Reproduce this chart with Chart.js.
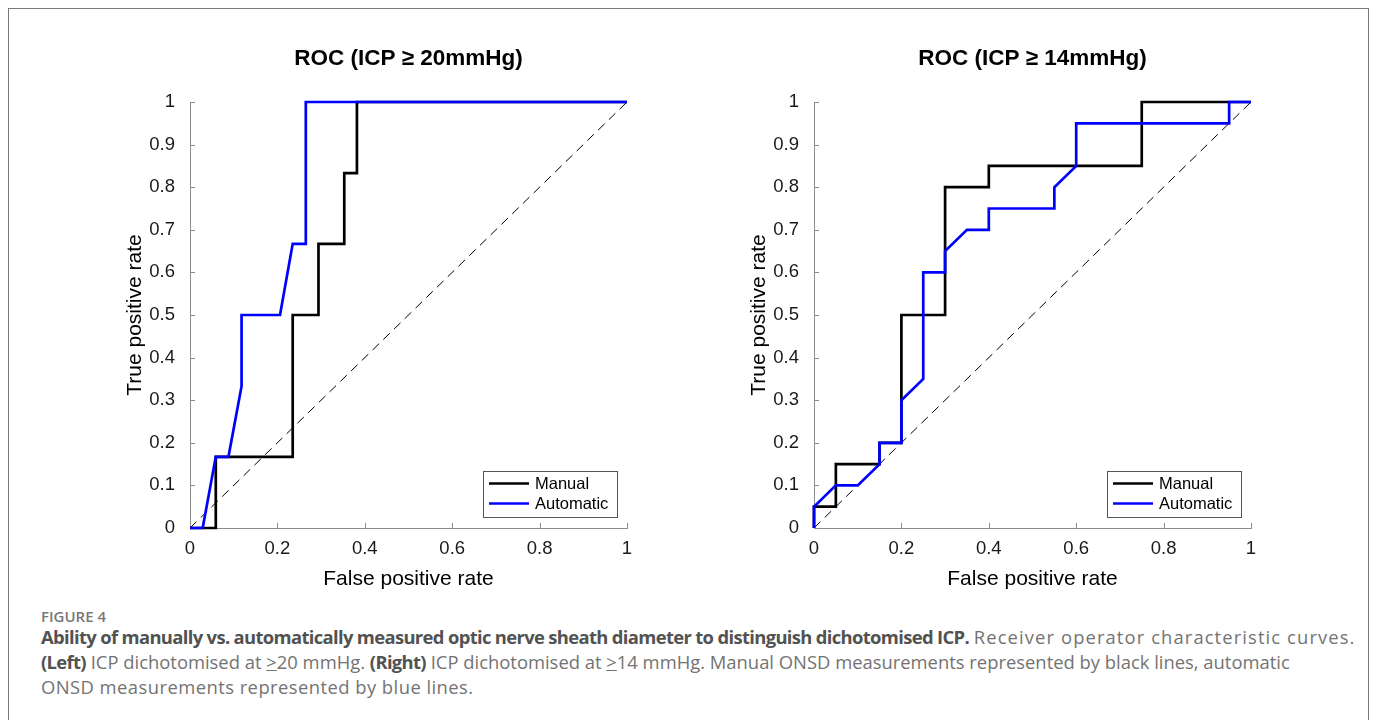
<!DOCTYPE html>
<html><head><meta charset="utf-8">
<script src="https://cdn.jsdelivr.net/npm/chart.js@4.4.1/dist/chart.umd.min.js"></script>
<style>
html,body{margin:0;padding:0;background:#fff;}
body{width:1375px;height:720px;position:relative;overflow:hidden;}
#frame{position:absolute;left:8px;top:7.5px;width:1361px;height:760px;border:1.5px solid #7a7a7a;box-sizing:border-box;}
canvas{position:absolute;top:0;}
#c1{left:100px;}
#c2{left:724px;}
.cap{position:absolute;left:41px;font-family:"Open Sans",sans-serif;color:#737373;white-space:nowrap;}
#figlab{top:605px;font-size:15px;line-height:22px;font-weight:600;color:#787878;}
#captext{top:624px;font-size:18.4px;line-height:25px;}
#captext b{color:#525252;font-weight:700;letter-spacing:-0.65px;}
.w1{letter-spacing:1.1px;}
.w3{letter-spacing:0.45px;}
</style></head><body>
<div id="frame"></div>
<canvas id="c1" width="560" height="600"></canvas>
<canvas id="c2" width="560" height="600"></canvas>
<div class="cap" id="figlab">FIGURE 4</div>
<div class="cap" id="captext"><b>Ability of manually vs. automatically measured optic nerve sheath diameter to distinguish dichotomised ICP.</b> <span class="w1">Receiver operator characteristic curves.</span><br><b>(Left)</b> ICP dichotomised at <u>&gt;</u>20 mmHg. <b>(Right)</b> ICP dichotomised at <u>&gt;</u>14 mmHg. Manual ONSD measurements represented by black lines, automatic<br><span class="w3">ONSD measurements represented by blue lines.</span></div>
<script>
// ---- data ----
const titles = ['ROC (ICP \u2265 20mmHg)', 'ROC (ICP \u2265 14mmHg)'];
const seriesNames = ['Manual', 'Automatic'];
const xTickValues = [0, 0.2, 0.4, 0.6, 0.8, 1];
const xTickLabels = ['0', '0.2', '0.4', '0.6', '0.8', '1'];
const yTickValues = [0, 0.1, 0.2, 0.3, 0.4, 0.5, 0.6, 0.7, 0.8, 0.9, 1];
const yTickLabels = ['0', '0.1', '0.2', '0.3', '0.4', '0.5', '0.6', '0.7', '0.8', '0.9', '1'];
const chanceX = [0, 1];
const chanceY = [0, 1];

const manualFpr20 = [0, 0.059, 0.059, 0.235, 0.235, 0.294, 0.294, 0.353, 0.353, 0.382, 0.382, 1];
const manualTpr20 = [0, 0, 0.167, 0.167, 0.5, 0.5, 0.667, 0.667, 0.833, 0.833, 1, 1];
const autoFpr20 = [0, 0.029, 0.059, 0.088, 0.118, 0.118, 0.206, 0.235, 0.265, 0.265, 1];
const autoTpr20 = [0, 0, 0.167, 0.167, 0.333, 0.5, 0.5, 0.667, 0.667, 1, 1];

const manualFpr14 = [0, 0, 0.05, 0.05, 0.15, 0.15, 0.2, 0.2, 0.3, 0.3, 0.4, 0.4, 0.75, 0.75, 1];
const manualTpr14 = [0, 0.05, 0.05, 0.15, 0.15, 0.2, 0.2, 0.5, 0.5, 0.8, 0.8, 0.85, 0.85, 1, 1];
const autoFpr14 = [0, 0, 0.05, 0.1, 0.15, 0.15, 0.2, 0.2, 0.25, 0.25, 0.3, 0.3, 0.35, 0.4, 0.4, 0.55, 0.55, 0.6, 0.6, 0.95, 0.95, 1];
const autoTpr14 = [0, 0.05, 0.1, 0.1, 0.15, 0.2, 0.2, 0.3, 0.35, 0.6, 0.6, 0.65, 0.7, 0.7, 0.75, 0.75, 0.8, 0.85, 0.95, 0.95, 1, 1];

// ---- helpers ----
const FONT = '"Liberation Sans", Arial, Helvetica, sans-serif';
const pts = (xs, ys) => xs.map((x, i) => ({x: x, y: ys[i]}));

const inwardTicks = {
  id: 'inwardTicks',
  beforeDatasetsDraw(chart) {
    const {ctx, chartArea: a, scales: {x, y}} = chart;
    ctx.save();
    ctx.strokeStyle = '#8c8c8c';
    ctx.lineWidth = 1;
    ctx.beginPath();
    xTickValues.forEach(v => {
      const px = Math.round(x.getPixelForValue(v)) + 0.5;
      ctx.moveTo(px, a.bottom); ctx.lineTo(px, a.bottom - 5);
    });
    yTickValues.forEach(v => {
      const py = Math.round(y.getPixelForValue(v)) + 0.5;
      ctx.moveTo(a.left, py); ctx.lineTo(a.left + 5, py);
    });
    ctx.stroke();
    ctx.restore();
  }
};

const boxLegend = {
  id: 'boxLegend',
  afterDatasetsDraw(chart) {
    const {ctx, chartArea: a} = chart;
    const w = 134, h = 46;
    const bx = a.right - 10 - w, by = a.bottom - 11 - h;
    ctx.save();
    ctx.fillStyle = '#fff';
    ctx.fillRect(bx, by, w, h);
    ctx.strokeStyle = '#555';
    ctx.lineWidth = 1;
    ctx.strokeRect(Math.round(bx) + 0.5, Math.round(by) + 0.5, w, h);
    const items = [
      {label: seriesNames[0], color: '#000000'},
      {label: seriesNames[1], color: '#0000ff'}
    ];
    ctx.font = '16.5px ' + FONT;
    ctx.textBaseline = 'middle';
    ctx.textAlign = 'left';
    items.forEach((it, i) => {
      const cy = by + 12.5 + i * 20;
      ctx.strokeStyle = it.color;
      ctx.lineWidth = 2.6;
      ctx.beginPath();
      ctx.moveTo(bx + 6, cy); ctx.lineTo(bx + 46, cy);
      ctx.stroke();
      ctx.fillStyle = '#000';
      ctx.fillText(it.label, bx + 52, cy + 0.5);
    });
    ctx.restore();
  }
};

function makeChart(id, title, mX, mY, aX, aY) {
  const line = (label, data, color, width, dash) => ({
    label, data, borderColor: color, backgroundColor: color, borderWidth: width,
    borderDash: dash || [], showLine: true, pointRadius: 0, pointHoverRadius: 0,
    tension: 0, fill: false, clip: 6, borderJoinStyle: 'miter', borderCapStyle: 'butt'
  });
  return new Chart(document.getElementById(id), {
    type: 'scatter',
    data: {
      datasets: [
        line(seriesNames[1], pts(aX, aY), '#0000ff', 2.7),
        line(seriesNames[0], pts(mX, mY), '#000000', 2.7),
        line('chance', pts(chanceX, chanceY), '#000000', 1, [9, 6])
      ]
    },
    options: {
      responsive: false,
      animation: false,
      events: [],
      layout: {padding: {left: 23, right: 33, top: 45, bottom: 8}},
      plugins: {
        legend: {display: false},
        tooltip: {enabled: false},
        title: {display: false}
      },
      scales: {
        x: {
          type: 'linear', min: 0, max: 1,
          afterBuildTicks: s => { s.ticks = xTickValues.map(v => ({value: v})); },
          afterFit: s => { s.height = 64; },
          grid: {display: false},
          border: {display: true, color: '#8c8c8c', width: 1},
          ticks: {color: '#1a1a1a', font: {family: FONT, size: 18.5}, padding: 2, maxRotation: 0,
            callback: (v) => xTickLabels[xTickValues.indexOf(v)]},
          title: {display: true, text: 'False positive rate', color: '#000',
            font: {family: FONT, size: 21}, padding: 0}
        },
        xTop: {
          type: 'linear', position: 'top', min: 0, max: 1,
          afterFit: s => { s.height = 57; },
          grid: {display: false},
          border: {display: false},
          ticks: {display: false},
          title: {display: true, text: title, color: '#000',
            font: {family: FONT, size: 22.5, weight: 'bold'}, padding: 0}
        },
        y: {
          type: 'linear', min: 0, max: 1,
          afterBuildTicks: s => { s.ticks = yTickValues.map(v => ({value: v})); },
          afterFit: s => { s.width = 67; },
          grid: {display: false},
          border: {display: true, color: '#8c8c8c', width: 1},
          ticks: {color: '#1a1a1a', font: {family: FONT, size: 18.5}, padding: 7,
            callback: (v) => yTickLabels[yTickValues.indexOf(v)]},
          title: {display: true, text: 'True positive rate', color: '#000',
            font: {family: FONT, size: 21}, padding: 0}
        }
      }
    },
    plugins: [inwardTicks, boxLegend]
  });
}

makeChart('c1', titles[0], manualFpr20, manualTpr20, autoFpr20, autoTpr20);
makeChart('c2', titles[1], manualFpr14, manualTpr14, autoFpr14, autoTpr14);
</script>
</body></html>
